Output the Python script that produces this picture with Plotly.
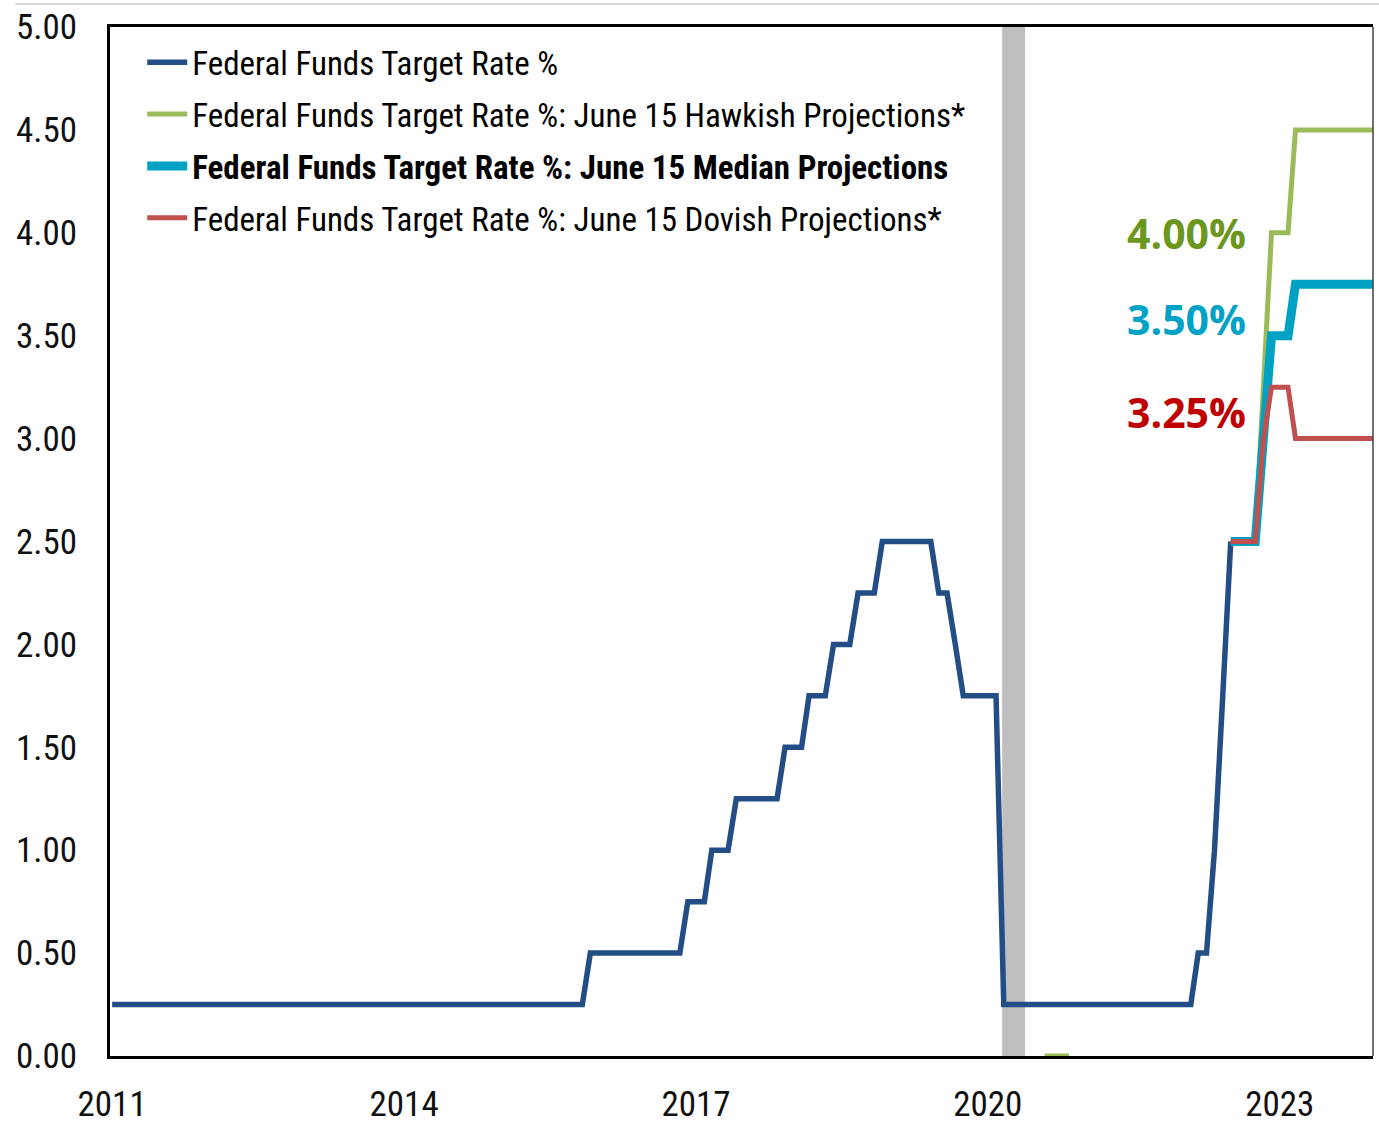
import plotly.graph_objects as go

# ---- data ----
fed_dates = ["2011-01-01", "2015-11-01", "2015-12-01", "2016-11-01", "2016-12-01", "2017-02-01",
             "2017-03-01", "2017-05-01", "2017-06-01", "2017-11-01", "2017-12-01", "2018-02-01",
             "2018-03-01", "2018-05-01", "2018-06-01", "2018-08-01", "2018-09-01", "2018-11-01",
             "2018-12-01", "2019-06-01", "2019-07-01", "2019-08-01", "2019-09-01", "2019-10-01",
             "2020-02-01", "2020-03-01", "2022-02-01", "2022-03-01", "2022-04-01", "2022-05-01",
             "2022-06-01", "2022-07-01"]
fed_rates = [0.25, 0.25, 0.50, 0.50, 0.75, 0.75,
             1.00, 1.00, 1.25, 1.25, 1.50, 1.50,
             1.75, 1.75, 2.00, 2.00, 2.25, 2.25,
             2.50, 2.50, 2.25, 2.25, 2.00, 1.75,
             1.75, 0.25, 0.25, 0.50, 0.50, 1.00,
             1.75, 2.50]

hawk_dates = ["2020-08-01", "2020-11-01", "2021-01-01", "2022-07-01", "2022-10-01", "2022-12-01",
              "2023-02-01", "2023-03-01", "2024-01-01"]
hawk_rates = [0.00, 0.00, None, 2.50, 2.50, 4.00, 4.00, 4.50, 4.50]

median_dates = ["2022-07-01", "2022-10-01", "2022-12-01", "2023-02-01", "2023-03-01", "2024-01-01"]
median_rates = [2.50, 2.50, 3.50, 3.50, 3.75, 3.75]

dove_dates = ["2022-07-01", "2022-10-01", "2022-11-01", "2022-12-01", "2023-02-01", "2023-03-01",
              "2024-01-01"]
dove_rates = [2.50, 2.50, 3.00, 3.25, 3.25, 3.00, 3.00]

recession = ("2020-02-24", "2020-05-20")

tick_years = ["2011", "2014", "2017", "2020", "2023"]
y_ticks = [0, 0.5, 1, 1.5, 2, 2.5, 3, 3.5, 4, 4.5, 5]

labels = [("4.00%", 4.00, "#6B9620"), ("3.50%", 3.58, "#00A3C6"), ("3.25%", 3.13, "#C00000")]

# ---- styles ----
NARROW = "Liberation Sans Narrow, Arial Narrow, Roboto Condensed, sans-serif"
C_BLUE = "#234E85"
C_GREEN = "#9BBB59"
C_CYAN = "#00A2C4"
C_RED = "#C0504D"

fig = go.Figure()
fig.add_trace(go.Scatter(x=fed_dates, y=fed_rates, mode="lines", name="Federal Funds Target Rate %",
                         line=dict(color=C_BLUE, width=5.5), legendgroup="a"))
fig.add_trace(go.Scatter(x=hawk_dates, y=hawk_rates, mode="lines", connectgaps=False,
                         name="Federal Funds Target Rate %: June 15 Hawkish Projections*",
                         line=dict(color=C_GREEN, width=5), legendgroup="b"))
fig.add_trace(go.Scatter(x=median_dates, y=median_rates, mode="lines",
                         name="<b>Federal Funds Target Rate %: June 15 Median Projections</b>",
                         line=dict(color=C_CYAN, width=9), legendgroup="c"))
fig.add_trace(go.Scatter(x=dove_dates, y=dove_rates, mode="lines",
                         name="Federal Funds Target Rate %: June 15 Dovish Projections*",
                         line=dict(color=C_RED, width=5), legendgroup="d"))

fig.add_shape(type="rect", xref="x", yref="paper", x0=recession[0], x1=recession[1], y0=0, y1=1,
              fillcolor="#BFBFBF", line_width=0, layer="below")
# right frame line (thin)
fig.add_shape(type="line", xref="paper", yref="paper", x0=1, x1=1, y0=0, y1=1,
              line=dict(color="#404040", width=1.5))
# thin separator line at very top of the image
fig.add_shape(type="line", xref="paper", yref="paper", x0=-0.075, x1=1.01, y0=1.0224, y1=1.0224,
              line=dict(color="#C8C8C8", width=1.5))

for txt, yv, col in labels:
    fig.add_annotation(x="2022-09-03", y=yv, xref="x", yref="y", text=f"<b>{txt}</b>",
                       showarrow=False, xanchor="right", yanchor="middle",
                       font=dict(family="Open Sans, sans-serif", size=41, color=col))

fig.update_layout(
    width=1379, height=1126,
    margin=dict(l=110, r=6, t=27, b=70, autoexpand=False),
    paper_bgcolor="white", plot_bgcolor="white",
    showlegend=True,
    legend=dict(x=0.0255, y=0.993, xanchor="left", yanchor="top", bgcolor="rgba(0,0,0,0)",
                font=dict(family=NARROW, size=33, color="#000000"), tracegroupgap=6,
                itemwidth=40),
    font=dict(family=NARROW, color="#000000"),
)
fig.update_xaxes(type="date", range=["2010-12-24", "2023-12-17"],
                 tickvals=[f"{y}-01-01" for y in tick_years], ticktext=tick_years,
                 showgrid=False, zeroline=False, showline=True, linecolor="#000000", linewidth=3,
                 mirror=True, ticks="", tickfont=dict(family=NARROW, size=35, color="#111111"),
                 ticklabelstandoff=15, layer="below traces", automargin=False)
fig.update_yaxes(range=[0, 5], tickvals=y_ticks, tickformat=".2f",
                 showgrid=False, zeroline=False, showline=True, linecolor="#000000", linewidth=3,
                 ticks="", tickfont=dict(family=NARROW, size=35, color="#111111"),
                 ticklabelstandoff=23, layer="below traces", automargin=False)

fig.write_html("out.html", config={"displayModeBar": False},
               post_script="document.body.style.margin='0';document.body.style.overflow='hidden';")
